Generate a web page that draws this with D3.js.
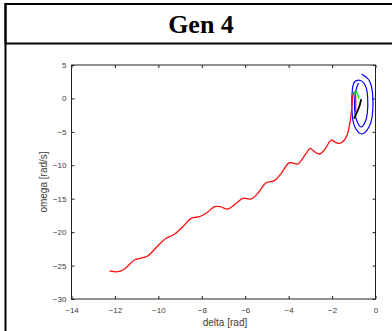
<!DOCTYPE html>
<html>
<head>
<meta charset="utf-8">
<script src="https://cdn.jsdelivr.net/npm/d3@7"></script>
<style>
  html, body { margin: 0; padding: 0; background: #fff; }
  svg { display: block; }
</style>
</head>
<body>
<svg id="chart" width="392" height="331"></svg>
<script>
// Phase-plane trajectories for generator 4: rotor angle (delta) vs. speed deviation (omega)
const title = "Gen 4";
const xLabel = "delta [rad]";
const yLabel = "omega [rad/s]";
const xTicks = [-14, -12, -10, -8, -6, -4, -2, 0];
const yTicks = [5, 0, -5, -10, -15, -20, -25, -30];

// Unstable trajectory (loses synchronism), [delta, omega]
const redDelta = [-0.921, -0.907, -0.921, -0.944, -1.0, -1.045, -1.082, -1.128, -1.197, -1.29, -1.43, -1.658, -1.85, -2.04, -2.2, -2.35, -2.58, -2.8, -3.007, -3.17, -3.35, -3.58, -3.96, -4.34, -4.65, -5.03, -5.42, -5.72, -6.11, -6.415, -6.80, -7.15, -7.41, -7.80, -8.105, -8.49, -8.87, -9.26, -9.64, -10.03, -10.49, -10.72, -11.1, -11.56, -11.87, -12.25];
const redOmega = [-2.03, -0.83, 0.36, 0.96, 0.89, 0.36, -0.98, -2.48, -4.02, -5.32, -6.22, -6.71, -6.55, -6.22, -6.9, -7.71, -8.31, -8.0, -7.46, -8.1, -8.95, -9.81, -9.61, -11.2, -12.3, -12.6, -14.19, -15.04, -14.94, -15.69, -16.54, -16.19, -16.19, -17.18, -17.69, -17.93, -19.18, -20.32, -20.92, -22.07, -23.57, -23.82, -24.17, -25.51, -25.92, -25.81];

// Stable oscillation spiralling in toward equilibrium
const blueDelta = [-0.645, -0.276, -0.115, -0.276, -0.645, -0.967, -1.09, -0.967, -0.69, -0.46, -0.355, -0.46, -0.668, -0.875, -0.967, -0.875, -0.78];
const blueOmega = [3.65, 2.61, -0.83, -4.12, -5.32, -4.12, -0.83, 2.46, 2.68, 1.86, -0.83, -3.38, -4.27, -3.23, -0.83, 1.56, 2.31];

// Short damped trajectories near the operating point
const greenDelta = [-1.0, -0.89, -0.815, -0.77];
const greenOmega = [0.71, 1.04, 0.56, -0.01];
const blackDelta = [-0.66, -0.737, -0.85, -0.944, -0.99];
const blackOmega = [-0.13, -1.13, -2.03, -2.70, -3.0];

const svg = d3.select("#chart");

// Title cell
svg.append("rect").attr("x", 5.5).attr("y", 4).attr("width", 400).attr("height", 39.5)
  .attr("fill", "#fff").attr("stroke", "#000").attr("stroke-width", 2);
svg.append("line").attr("x1", 5.5).attr("x2", 5.5).attr("y1", 3).attr("y2", 331)
  .attr("stroke", "#000").attr("stroke-width", 2);
svg.append("text").attr("x", 201).attr("y", 33)
  .attr("text-anchor", "middle")
  .attr("font-family", "'Liberation Serif', 'Times New Roman', serif")
  .attr("font-weight", "bold").attr("font-size", 26).attr("fill", "#000")
  .text(title);

// Plot area
const plotLeft = 71.5, plotRight = 375.5, plotTop = 65, plotBottom = 299;
const x = d3.scaleLinear().domain([-14, 0]).range([plotLeft, plotRight]);
const y = d3.scaleLinear().domain([-30, 5]).range([plotBottom, plotTop]);

const tickFont = "'Liberation Sans', Arial, Helvetica, sans-serif";
const tickColor = "#3a3a3a";

const gx = svg.append("g").attr("transform", `translate(0,${plotBottom})`)
  .call(d3.axisBottom(x).tickValues(xTicks).tickSizeInner(-3).tickSizeOuter(0).tickPadding(8)
    .tickFormat(d3.format("d")));
const gxTop = svg.append("g").attr("transform", `translate(0,${plotTop})`)
  .call(d3.axisTop(x).tickValues(xTicks).tickSizeInner(-3).tickSizeOuter(0).tickFormat(""));
const gy = svg.append("g").attr("transform", `translate(${plotLeft},0)`)
  .call(d3.axisLeft(y).tickValues(yTicks).tickSizeInner(-3).tickSizeOuter(0).tickPadding(5)
    .tickFormat(d3.format("d")));
const gyRight = svg.append("g").attr("transform", `translate(${plotRight},0)`)
  .call(d3.axisRight(y).tickValues(yTicks).tickSizeInner(-3).tickSizeOuter(0).tickFormat(""));

[gx, gxTop, gy, gyRight].forEach(g => {
  g.select(".domain").remove();
  g.selectAll(".tick line").attr("stroke", "#222");
  g.selectAll("text").attr("font-family", tickFont).attr("font-size", 8).attr("fill", tickColor);
});
gy.selectAll("text").attr("dy", "0.32em");

// Axes box
svg.append("rect").attr("x", plotLeft).attr("y", plotTop)
  .attr("width", plotRight - plotLeft).attr("height", plotBottom - plotTop)
  .attr("fill", "none").attr("stroke", "#222").attr("stroke-width", 1);

// Axis titles
svg.append("text").attr("x", 225).attr("y", 326).attr("text-anchor", "middle")
  .attr("font-family", tickFont).attr("font-size", 10).attr("fill", tickColor).text(xLabel);
svg.append("text").attr("transform", "translate(47,182) rotate(-90)").attr("text-anchor", "middle")
  .attr("font-family", tickFont).attr("font-size", 10).attr("fill", tickColor).text(yLabel);

// Trajectories
const line = d3.line().x(d => x(d[0])).y(d => y(d[1])).curve(d3.curveCatmullRom.alpha(0.5));
const pair = (a, b) => a.map((v, i) => [v, b[i]]);

const plot = svg.append("g");
plot.append("path").datum(pair(blueDelta, blueOmega)).attr("d", line)
  .attr("fill", "none").attr("stroke", "#0000ff").attr("stroke-width", 1.2);
plot.append("path").datum(pair(redDelta, redOmega)).attr("d", line)
  .attr("fill", "none").attr("stroke", "#ff1010").attr("stroke-width", 1.3);
plot.append("path").datum(pair(greenDelta, greenOmega)).attr("d", line)
  .attr("fill", "none").attr("stroke", "#00ee00").attr("stroke-width", 1.5);
plot.append("path").datum(pair(blackDelta, blackOmega)).attr("d", line)
  .attr("fill", "none").attr("stroke", "#000").attr("stroke-width", 1.8);
</script>
</body>
</html>
